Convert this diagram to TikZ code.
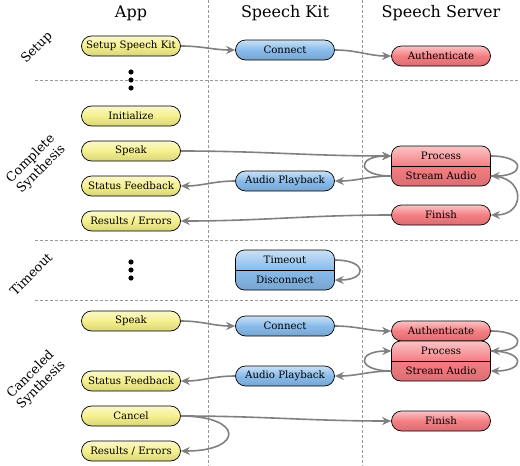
\documentclass[tikz,border=0pt]{standalone}
\usepackage{fontspec}
\setmainfont{DejaVu Serif}
\usetikzlibrary{arrows.meta}
\definecolor{appc}{RGB}{245,240,140}
\definecolor{kitc}{RGB}{136,187,235}
\definecolor{srvc}{RGB}{245,125,130}
\definecolor{conc}{RGB}{128,128,128}
\tikzset{
  box/.style={draw=black, line width=0.7pt, rounded corners=10pt, minimum width=99pt, minimum height=20pt, inner sep=0pt, font=\fontsize{10.2}{12}\selectfont},
  appbox/.style={box, top color=appc!45!white, bottom color=appc!88!black, middle color=appc},
  kitbox/.style={box, top color=kitc!45!white, bottom color=kitc!88!black, middle color=kitc},
  srvbox/.style={box, top color=srvc!45!white, bottom color=srvc!88!black, middle color=srvc},
  bigbox/.style={minimum height=40pt, rounded corners=9pt},
  part/.style={minimum width=99pt, minimum height=20pt, inner sep=0pt, font=\fontsize{10.2}{12}\selectfont},
  divider/.style={draw=black, line width=0.7pt},
  conn/.style={draw=conc, line width=1.6pt, -{Stealth[length=9pt,width=8pt]}},
  grid/.style={draw=black!40, line width=0.6pt, dash pattern=on 3pt off 2pt},
  header/.style={font=\fontsize{16}{18}\selectfont},
  rowlabel/.style={rotate=45, align=center, font=\fontsize{12.8}{15}\selectfont},
}
\begin{document}
\begin{tikzpicture}[x=1pt,y=-1pt]
\useasboundingbox (0,0) rectangle (520,466);
% grid
\draw[grid] (208,0) -- (208,466);
\draw[grid] (362,0) -- (362,466);
\draw[grid] (35,80) -- (520,80);
\draw[grid] (35,240) -- (520,240);
\draw[grid] (35,300) -- (520,300);
% headers
\node[header] (happ) at (131,13) {App};
\node[header] (hkit) at (285,13) {Speech Kit};
\node[header] (hsrv) at (441,13) {Speech Server};
% row labels
\node[rowlabel] (lsetup) at (37,48) {Setup};
\node[rowlabel] (lcomp) at (36,164) {Complete\\Synthesis};
\node[rowlabel] (ltime) at (31,274) {Timeout};
\node[rowlabel] (lcanc) at (36,380) {Canceled\\Synthesis};
% dots
\fill (131,72) circle (2.6pt) (131,80) circle (2.6pt) (131,88) circle (2.6pt);
\fill (131,262) circle (2.6pt) (131,270) circle (2.6pt) (131,278) circle (2.6pt);
% setup
\node[appbox] (setup) at (131,46) {Setup Speech Kit};
\node[kitbox] (conn1) at (285,50) {Connect};
\node[srvbox] (auth1) at (441,56) {Authenticate};
% complete synthesis
\node[appbox] (init) at (131,116) {Initialize};
\node[appbox] (speak1) at (131,151) {Speak};
\node[appbox] (stat1) at (131,186) {Status Feedback};
\node[appbox] (res1) at (131,221) {Results / Errors};
\node[kitbox] (play1) at (285,181) {Audio Playback};
\node[srvbox, bigbox] (ps1) at (441,166) {};
\draw[divider] (ps1.west) -- (ps1.east);
\node[part] (proc1) at (441,156) {Process};
\node[part] (stream1) at (441,176) {Stream Audio};
\node[srvbox] (fin1) at (441,215) {Finish};
% timeout
\node[kitbox, bigbox] (td) at (285,270) {};
\draw[divider] (td.west) -- (td.east);
\node[part] (tout) at (285,260) {Timeout};
\node[part] (disc) at (285,280) {Disconnect};
% canceled synthesis
\node[appbox] (speak2) at (131,321) {Speak};
\node[appbox] (stat2) at (131,381) {Status Feedback};
\node[appbox] (cancel) at (131,416) {Cancel};
\node[appbox] (res2) at (131,451) {Results / Errors};
\node[kitbox] (conn2) at (285,326) {Connect};
\node[kitbox] (play2) at (285,376) {Audio Playback};
\node[srvbox] (auth2) at (441,331) {Authenticate};
\node[srvbox, bigbox] (ps2) at (441,361) {};
\draw[divider] (ps2.west) -- (ps2.east);
\node[part] (proc2) at (441,351) {Process};
\node[part] (stream2) at (441,371) {Stream Audio};
\node[srvbox] (fin2) at (441,421) {Finish};
% connectors: setup
\draw[conn] (setup.east) to[out=0,in=180] (conn1.west);
\draw[conn] (conn1.east) to[out=0,in=180] (auth1.west);
% complete synthesis
\draw[conn] (speak1.east) to[out=0,in=180] (proc1.west);
\draw[conn] (stream1.west) .. controls +(-35,0) and +(-35,0) .. (proc1.west);
\draw[conn] (proc1.east) .. controls +(35,0) and +(35,0) .. (stream1.east);
\draw[conn] (stream1.east) .. controls +(35,0) and +(35,0) .. (fin1.east);
\draw[conn] (stream1.west) to[out=180,in=0] (play1.east);
\draw[conn] (play1.west) to[out=180,in=0] (stat1.east);
\draw[conn] (fin1.west) to[out=180,in=0] (res1.east);
% timeout
\draw[conn] (tout.east) .. controls +(33,0) and +(33,0) .. (disc.east);
% canceled synthesis
\draw[conn] (speak2.east) to[out=0,in=180] (conn2.west);
\draw[conn] (conn2.east) to[out=0,in=180] (auth2.west);
\draw[conn] (auth2.east) .. controls +(35,0) and +(35,0) .. (proc2.east);
\draw[conn] (proc2.east) .. controls +(35,0) and +(35,0) .. (stream2.east);
\draw[conn] (stream2.west) .. controls +(-35,0) and +(-35,0) .. (proc2.west);
\draw[conn] (stream2.west) to[out=180,in=0] (play2.east);
\draw[conn] (play2.west) to[out=180,in=0] (stat2.east);
\draw[conn] (cancel.east) to[out=0,in=180] (fin2.west);
\draw[conn] (cancel.east) .. controls +(63,0) and +(63,0) .. (res2.east);
\end{tikzpicture}
\end{document}
